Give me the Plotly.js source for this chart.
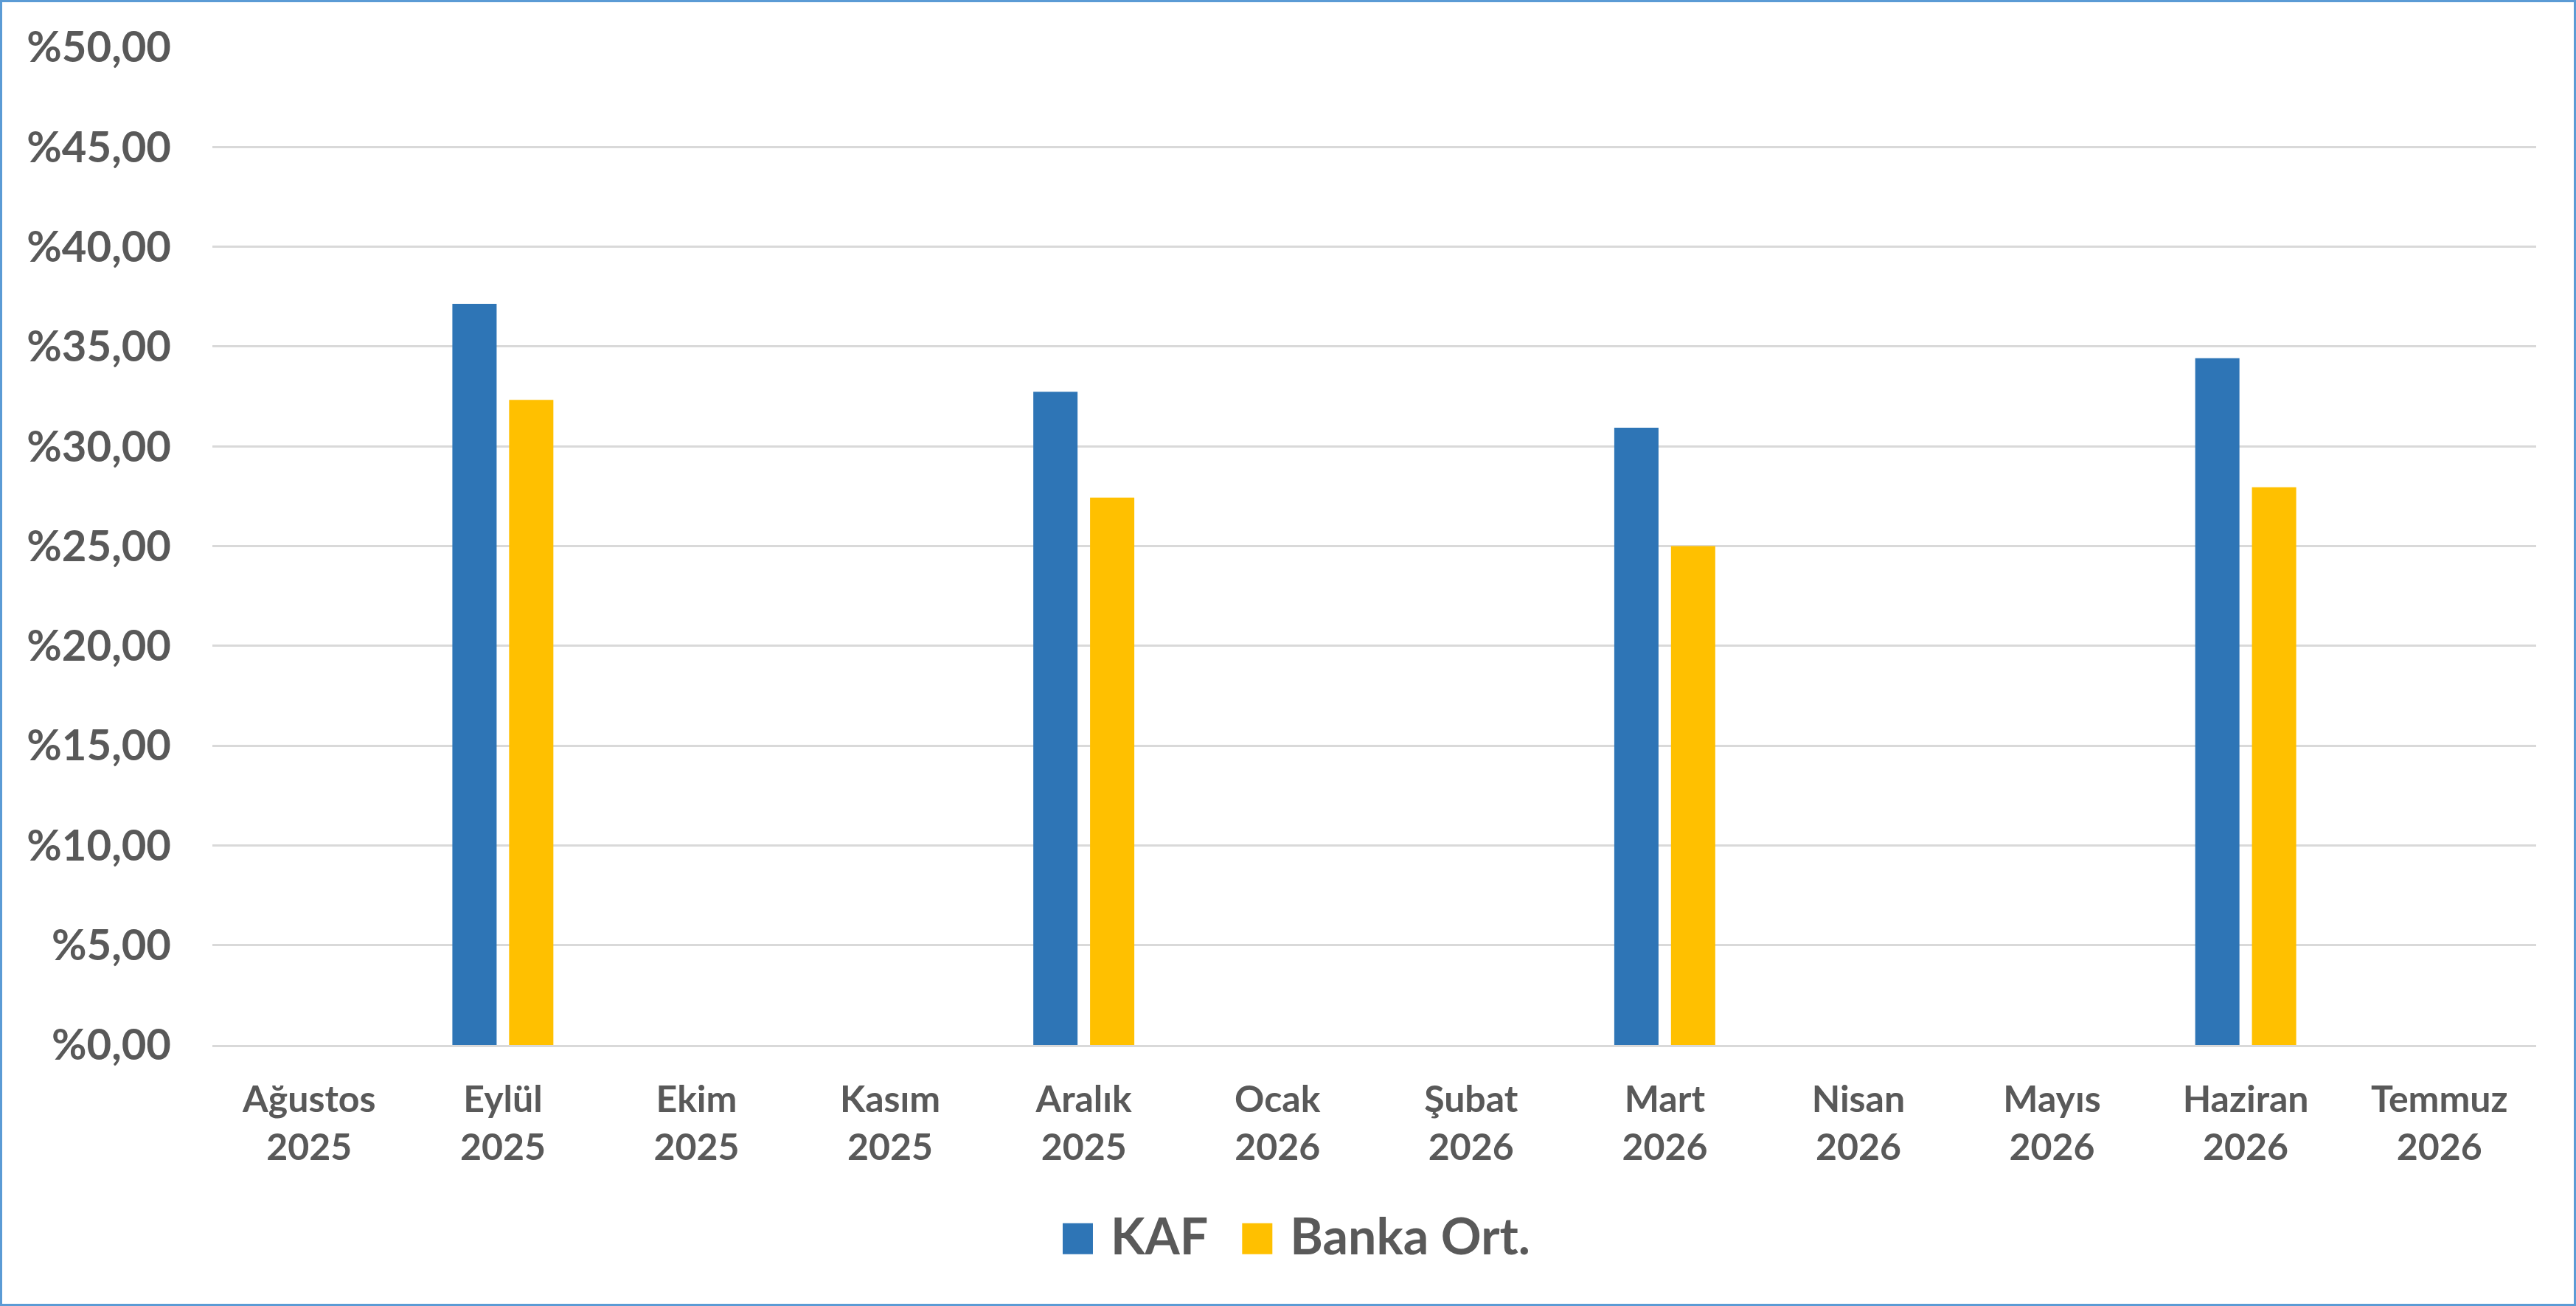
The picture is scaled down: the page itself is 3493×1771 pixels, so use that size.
<!DOCTYPE html>
<html>
<head>
<meta charset="utf-8">
<script src="https://cdn.plot.ly/plotly-3.0.1.min.js"></script>
<style>
html,body{margin:0;padding:0;background:#fff;}
#wrap{position:relative;width:3493px;height:1771px;overflow:hidden;}
#chart{position:absolute;left:0;top:0;width:3493px;height:1771px;}
#frame{position:absolute;left:0;top:0;width:3493px;height:1771px;box-sizing:border-box;border:3px solid #5B9BD5;pointer-events:none;}
</style>
</head>
<body>
<div id="wrap"><div id="chart"></div><div id="frame"></div></div>
<script>
// ---- data ----
var categories = ['Ağustos<br>2025','Eylül<br>2025','Ekim<br>2025','Kasım<br>2025','Aralık<br>2025','Ocak<br>2026','Şubat<br>2026','Mart<br>2026','Nisan<br>2026','Mayıs<br>2026','Haziran<br>2026','Temmuz<br>2026'];
var kafValues   = [null, 37.14, null, null, 32.73, null, null, 30.93, null, null, 34.41, null];
var bankaValues = [null, 32.33, null, null, 27.43, null, null, 25.00, null, null, 27.95, null];
var seriesNames = ['KAF', 'Banka Ort.'];
var yTickVals   = [0, 5, 10, 15, 20, 25, 30, 35, 40, 45, 50];
var yTickLabels = ['%0,00','%5,00','%10,00','%15,00','%20,00','%25,00','%30,00','%35,00','%40,00','%45,00','%50,00'];

var textColor = '#595959';
var fontFam = 'Lato, "Open Sans", sans-serif';

var data = [
  {type:'bar', name: seriesNames[0], x: categories, y: kafValues,
   marker:{color:'#2E75B6', line:{width:0}}, hoverinfo:'skip'},
  {type:'bar', name: seriesNames[1], x: categories, y: bankaValues,
   marker:{color:'#FFC000', line:{width:0}}, hoverinfo:'skip'}
];

var layout = {
  width: 3493, height: 1771,
  margin: {l: 288, r: 54, t: 64, b: 354, autoexpand: false},
  paper_bgcolor: '#ffffff', plot_bgcolor: '#ffffff',
  barmode: 'group', bargap: 0.414, bargroupgap: 0.22,
  font: {family: fontFam, color: textColor},
  xaxis: {
    type: 'category', showgrid: false, zeroline: false,
    showline: true, linecolor: '#D9D9D9', linewidth: 3,
    ticks: '', ticklabelstandoff: 28,
    tickfont: {family: fontFam, size: 50, color: textColor, weight: 700}
  },
  yaxis: {
    range: [0, 50], tickmode: 'array', tickvals: yTickVals, ticktext: yTickLabels,
    showgrid: true, gridcolor: '#D9D9D9', gridwidth: 3, zeroline: false,
    showline: false, ticks: '', ticklabelstandoff: 55,
    tickfont: {family: fontFam, size: 58, color: textColor, weight: 700}
  },
  showlegend: true,
  legend: {
    orientation: 'h', xanchor: 'left', yanchor: 'top',
    x: 0.3529, y: -0.1526, itemwidth: 96,
    font: {family: fontFam, size: 68, color: textColor, weight: 700},
    bgcolor: 'rgba(0,0,0,0)', borderwidth: 0, itemclick: false, itemdoubleclick: false
  }
};

var gd = document.getElementById('chart');
Plotly.newPlot(gd, data, layout, {staticPlot: true, displayModeBar: false}).then(function(){
  var traces = gd.querySelectorAll('.legend .traces');
  traces.forEach(function(tr){
    var txt = tr.querySelector('text.legendtext');
    var pts = tr.querySelector('.legendpoints');
    if(!txt || !pts) return;
    var path = pts.querySelector('path');
    if(!path) return;
    var bb = txt.getBBox();
    var yAttr = parseFloat(txt.getAttribute('y'));
    var baseline = isNaN(yAttr) ? (bb.y + bb.height * 0.8) : yAttr;
    var m1 = tr.getCTM(), m2 = pts.getCTM();
    var dx = m1.e - m2.e, dy = m1.f - m2.f;
    var x1 = bb.x - 24 + dx, x0 = x1 - 41;
    var y1 = baseline + dy, y0 = y1 - 42;
    path.setAttribute('transform', '');
    path.setAttribute('d', 'M' + x0 + ',' + y0 + 'H' + x1 + 'V' + y1 + 'H' + x0 + 'Z');
  });
});
</script>
</body>
</html>
